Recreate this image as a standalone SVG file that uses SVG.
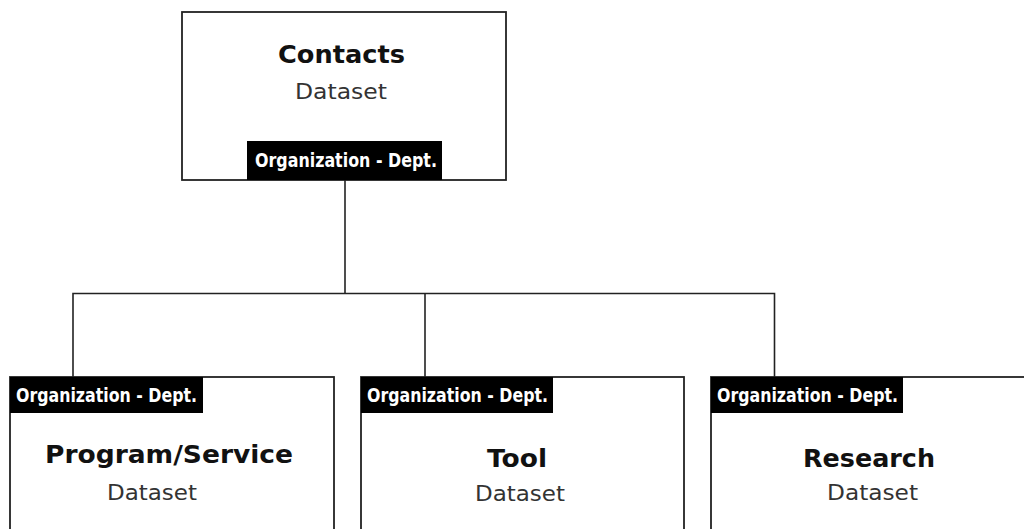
<svg xmlns="http://www.w3.org/2000/svg" width="1024" height="529" viewBox="0 0 1024 529">
  <style>
    .box { fill: #fff; stroke: #222; stroke-width: 1.8; }
    .tag { fill: #000; }
    .tagtext { fill: #fff; font-family: "DejaVu Sans Condensed", "DejaVu Sans", sans-serif; font-stretch: condensed; font-weight: bold; font-size: 19px; }
    .title { fill: #111; font-family: "DejaVu Sans", Verdana, sans-serif; font-weight: bold; font-size: 24px; }
    .sub { fill: #333; font-family: "DejaVu Sans", Verdana, sans-serif; font-size: 21px; }
    .wire { fill: none; stroke: #222; stroke-width: 1.6; }
  </style>
  <rect width="1024" height="529" fill="#fff"/>

  <g id="connectors">
    <path class="wire" d="M345 180 V293.5"/>
    <path class="wire" d="M73 377 V293.5 H774.5 V377"/>
    <path class="wire" d="M425 293.5 V377"/>
  </g>

  <g id="contacts">
    <rect class="box" x="182" y="12" width="324" height="168"/>
    <rect class="tag" x="247" y="141" width="195" height="39"/>
    <text class="tagtext" x="255" y="167" textLength="182" lengthAdjust="spacingAndGlyphs">Organization - Dept.</text>
    <text class="title" x="278" y="63" textLength="127" lengthAdjust="spacingAndGlyphs">Contacts</text>
    <text class="sub" x="295" y="99" textLength="92" lengthAdjust="spacingAndGlyphs">Dataset</text>
  </g>

  <g id="program-service">
    <rect class="box" x="10" y="377" width="324" height="170"/>
    <rect class="tag" x="10" y="377" width="193" height="36"/>
    <text class="tagtext" x="16" y="402" textLength="181" lengthAdjust="spacingAndGlyphs">Organization - Dept.</text>
    <text class="title" x="45" y="463" textLength="248" lengthAdjust="spacingAndGlyphs">Program/Service</text>
    <text class="sub" x="107" y="500" textLength="90" lengthAdjust="spacingAndGlyphs">Dataset</text>
  </g>

  <g id="tool">
    <rect class="box" x="361" y="377" width="323" height="170"/>
    <rect class="tag" x="361" y="377" width="192" height="36"/>
    <text class="tagtext" x="367" y="402" textLength="181" lengthAdjust="spacingAndGlyphs">Organization - Dept.</text>
    <text class="title" x="487" y="467" textLength="60" lengthAdjust="spacingAndGlyphs">Tool</text>
    <text class="sub" x="475" y="501" textLength="90" lengthAdjust="spacingAndGlyphs">Dataset</text>
  </g>

  <g id="research">
    <rect class="box" x="711" y="377" width="330" height="170"/>
    <rect class="tag" x="711" y="377" width="192" height="36"/>
    <text class="tagtext" x="717" y="402" textLength="181" lengthAdjust="spacingAndGlyphs">Organization - Dept.</text>
    <text class="title" x="803" y="467" textLength="132" lengthAdjust="spacingAndGlyphs">Research</text>
    <text class="sub" x="827" y="500" textLength="91" lengthAdjust="spacingAndGlyphs">Dataset</text>
  </g>
</svg>
